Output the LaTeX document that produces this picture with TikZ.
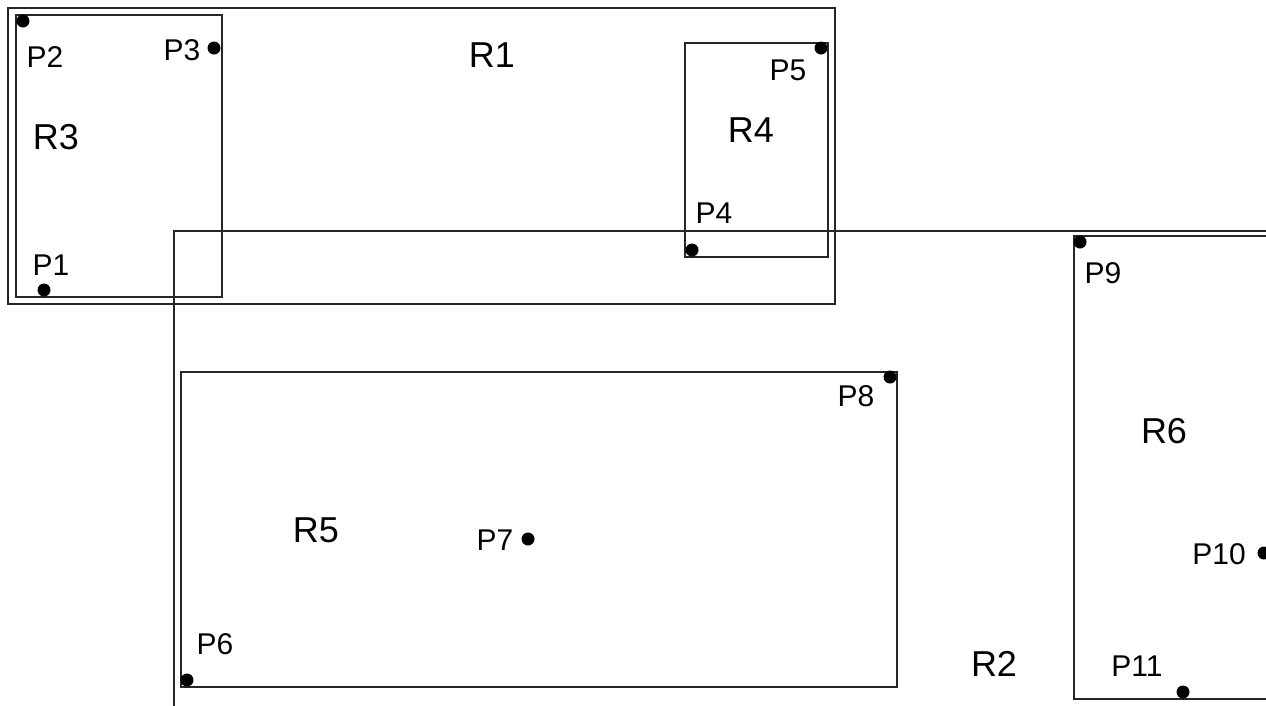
\documentclass[tikz,border=0pt]{standalone}
\usepackage{fontspec}
\setmainfont{Liberation Sans}
\begin{document}
\begin{tikzpicture}[x=1pt,y=-1pt,line width=1.3pt,
  region/.style={draw=black!85},
  dot/.style={circle,fill=black,inner sep=0pt,minimum size=13pt},
  plbl/.style={inner sep=0pt,font=\fontsize{30}{32}\selectfont},
  rlbl/.style={inner sep=0pt,font=\fontsize{36}{40}\selectfont}]
  \useasboundingbox (0,0) rectangle (1266,705);
  \clip (0,0) rectangle (1266,705);
  % regions
  \draw[region] (8,8) rectangle (835,304);
  \draw[region] (16,15) rectangle (222,297);
  \draw[region] (685,43) rectangle (828,257);
  \draw[region] (174,231) rectangle (1290,720);
  \draw[region] (181,372) rectangle (897,687);
  \draw[region] (1074,236) rectangle (1290,699);
  % region labels
  \node[rlbl] (r1) at (492,55) {R1};
  \node[rlbl] (r2) at (994,664) {R2};
  \node[rlbl] (r3) at (56,137) {R3};
  \node[rlbl] (r4) at (751,130) {R4};
  \node[rlbl] (r5) at (316,530) {R5};
  \node[rlbl] (r6) at (1164,431) {R6};
  % points
  \node[dot] (p1) at (44,290) {};
  \node[dot] (p2) at (23,21) {};
  \node[dot] (p3) at (214,48) {};
  \node[dot] (p4) at (692,250) {};
  \node[dot] (p5) at (821,48) {};
  \node[dot] (p6) at (187,680) {};
  \node[dot] (p7) at (528,539) {};
  \node[dot] (p8) at (890,377) {};
  \node[dot] (p9) at (1080,242) {};
  \node[dot] (p10) at (1264,553) {};
  \node[dot] (p11) at (1183,692) {};
  % point labels
  \node[plbl] (l1) at (51,265) {P1};
  \node[plbl] (l2) at (45,57) {P2};
  \node[plbl] (l3) at (182,50) {P3};
  \node[plbl] (l4) at (714,213) {P4};
  \node[plbl] (l5) at (788,70) {P5};
  \node[plbl] (l6) at (215,644) {P6};
  \node[plbl] (l7) at (495,540) {P7};
  \node[plbl] (l8) at (856,396) {P8};
  \node[plbl] (l9) at (1103,273) {P9};
  \node[plbl] (l10) at (1219,554) {P10};
  \node[plbl] (l11) at (1137,666) {P11};
\end{tikzpicture}
\end{document}
